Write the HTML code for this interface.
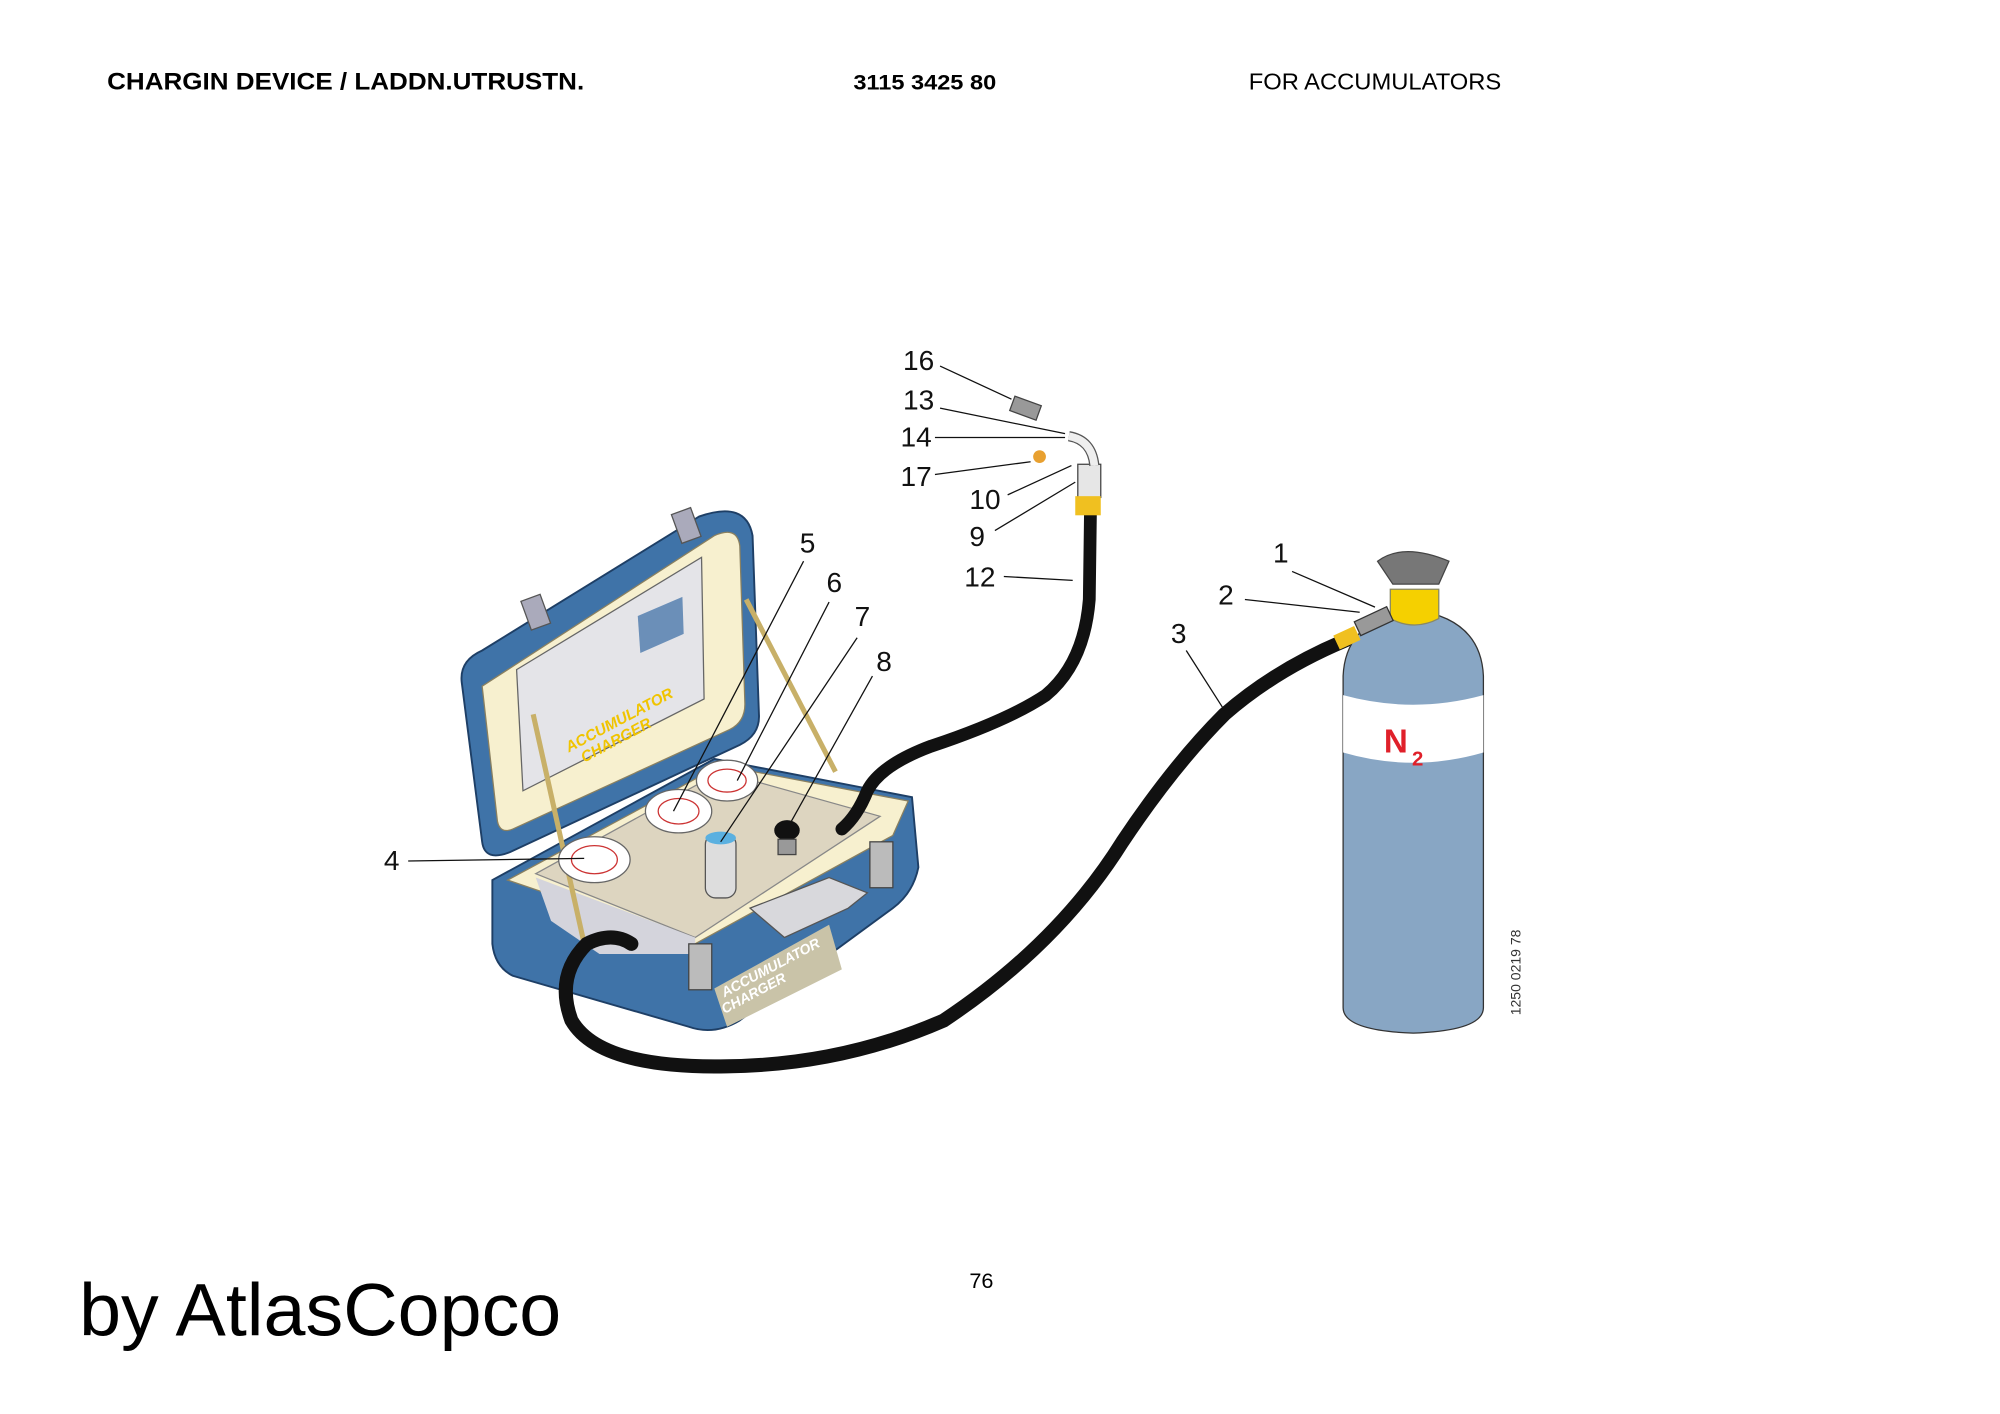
<!DOCTYPE html>
<html><head><meta charset="utf-8"><style>html,body{margin:0;padding:0;background:#fff}svg{display:block}</style></head>
<body>
<svg width="2000" height="1414" viewBox="0 0 1568 1108.6" xmlns="http://www.w3.org/2000/svg" font-family="Liberation Sans, Arial, sans-serif">
<rect width="1568" height="1109" fill="#fff"/>
<text x="84" y="70" font-size="19" font-weight="bold" textLength="374" lengthAdjust="spacingAndGlyphs">CHARGIN DEVICE / LADDN.UTRUSTN.</text>
<text x="669" y="70" font-size="17" font-weight="bold" textLength="112" lengthAdjust="spacingAndGlyphs">3115 3425 80</text>
<text x="979" y="70" font-size="18" textLength="198" lengthAdjust="spacingAndGlyphs">FOR ACCUMULATORS</text>
<text x="760" y="1010" font-size="17">76</text>
<text x="62" y="1047" font-size="58" textLength="378" lengthAdjust="spacingAndGlyphs">by AtlasCopco</text>
<text transform="translate(1192,796) rotate(-90)" font-size="11" fill="#333">1250 0219 78</text>

<!-- Case lid -->
<path d="M362,535 Q360,518 378,510 L548,405 Q585,392 590,420 L595,560 Q596,576 580,584 L400,668 Q380,676 378,660 Z" fill="#3f73a8" stroke="#1e3f66" stroke-width="1.5"/>
<path d="M378,538 L560,420 Q578,412 580,428 L584,552 Q584,566 572,572 L402,650 Q392,654 390,644 Z" fill="#f7f0cf" stroke="#8a8060"/>
<path d="M405,525 L550,437 L552,548 L410,620 Z" fill="#e4e4e8" stroke="#666"/>
<path d="M500,483 L535,468 L536,497 L502,512 Z" fill="#6b8fb8"/>
<text transform="translate(446,590) rotate(-28)" font-size="12" font-weight="bold" font-style="italic" fill="#f0c400">ACCUMULATOR</text>
<text transform="translate(458,598) rotate(-28)" font-size="12" font-weight="bold" font-style="italic" fill="#f0c400">CHARGER</text>
<rect x="412" y="468" width="16" height="24" fill="#aab" stroke="#555" transform="rotate(-20 420 480)"/>
<rect x="530" y="400" width="16" height="24" fill="#aab" stroke="#555" transform="rotate(-20 538 412)"/>
<!-- Case base -->
<path d="M386,690 L560,595 L715,625 L720,680 Q716,700 700,712 L580,800 Q560,812 540,805 L402,765 Q388,758 386,740 Z" fill="#3f73a8" stroke="#1e3f66" stroke-width="1.5"/>
<path d="M398,690 L565,600 L712,628 L700,655 L545,740 Z" fill="#f7f0cf" stroke="#8a8060"/>
<path d="M420,685 L565,605 L690,640 L545,735 Z" fill="#ddd5c0" stroke="#888"/>
<path d="M420,688 L545,735 L545,748 L470,748 L432,722 Z" fill="#d4d4dc"/>
<path d="M560,775 L650,725 L660,760 L570,805 Z" fill="#c9c3a8"/>
<text transform="translate(568,782) rotate(-28)" font-size="11" font-weight="bold" font-style="italic" fill="#fff">ACCUMULATOR</text>
<text transform="translate(568,795) rotate(-28)" font-size="11" font-weight="bold" font-style="italic" fill="#fff">CHARGER</text>
<path d="M588,712 L650,688 L680,700 L665,712 L615,735 Z" fill="#d8d8dc" stroke="#555"/>
<line x1="418" y1="560" x2="458" y2="740" stroke="#c8b068" stroke-width="4"/>
<line x1="585" y1="470" x2="655" y2="605" stroke="#c8b068" stroke-width="4"/>
<!-- gauges -->
<g stroke="#666" fill="#fff"><ellipse cx="466" cy="674" rx="28" ry="18"/><ellipse cx="532" cy="636" rx="26" ry="17"/><ellipse cx="570" cy="612" rx="24" ry="16"/></g>
<g stroke="#c33" fill="none"><ellipse cx="466" cy="674" rx="18" ry="11"/><ellipse cx="532" cy="636" rx="16" ry="10"/><ellipse cx="570" cy="612" rx="15" ry="9"/></g>
<rect x="553" y="654" width="24" height="50" rx="8" fill="#ddd" stroke="#555"/>
<ellipse cx="565" cy="657" rx="12" ry="5" fill="#5ab0e0"/>
<ellipse cx="617" cy="651" rx="10" ry="8" fill="#111"/>
<rect x="610" y="658" width="14" height="12" fill="#999" stroke="#444"/>
<rect x="540" y="740" width="18" height="36" fill="#bbb" stroke="#444"/>
<rect x="682" y="660" width="18" height="36" fill="#bbb" stroke="#444"/>
<!-- hoses -->
<path d="M855,395 L854,470 Q850,520 820,545 Q790,565 730,585 Q690,600 680,620 Q672,640 660,650" fill="none" stroke="#111" stroke-width="10" stroke-linecap="round"/>
<path d="M1055,502 Q1000,525 960,560 Q920,600 880,660 Q830,740 740,800 Q660,835 570,836 Q470,838 448,800 Q435,765 460,740 Q480,730 495,740" fill="none" stroke="#111" stroke-width="11" stroke-linecap="round"/>
<rect x="845" y="364" width="18" height="26" fill="#e6e6e6" stroke="#444"/>
<path d="M838,342 Q856,345 858,365" fill="none" stroke="#555" stroke-width="8"/>
<path d="M838,342 Q856,345 858,365" fill="none" stroke="#eee" stroke-width="6"/>
<rect x="843" y="389" width="20" height="15" fill="#f0c020"/>
<rect x="793" y="314" width="22" height="12" fill="#999" stroke="#444" transform="rotate(20 804 320)"/>
<circle cx="815" cy="358" r="5" fill="#e8a030"/>
<!-- cylinder -->
<path d="M1053,530 Q1055,485 1108,478 Q1161,485 1163,530 L1163,790 Q1163,808 1108,810 Q1053,808 1053,790 Z" fill="#88a6c4" stroke="#333"/>
<path d="M1053,545 Q1108,560 1163,545 L1163,590 Q1108,606 1053,590 Z" fill="#fff"/>
<text x="1085" y="590" font-size="26" font-weight="bold" fill="#e0202a">N</text>
<text x="1107" y="600" font-size="16" font-weight="bold" fill="#e0202a">2</text>
<path d="M1090,462 L1128,462 L1128,485 Q1109,495 1090,485 Z" fill="#f5d000" stroke="#886"/>
<path d="M1080,440 Q1100,425 1136,440 L1128,458 L1092,458 Z" fill="#777" stroke="#444"/>
<rect x="1063" y="481" width="28" height="12" fill="#999" stroke="#333" transform="rotate(-25 1077 487)"/>
<rect x="1047" y="494" width="18" height="12" fill="#f0c020" transform="rotate(-25 1056 500)"/>
<!-- labels -->
<g font-size="22" fill="#111">
<text x="708" y="290">16</text><text x="708" y="321">13</text><text x="706" y="350">14</text><text x="706" y="381">17</text>
<text x="760" y="399">10</text><text x="760" y="428">9</text><text x="756" y="460">12</text>
<text x="627" y="433">5</text><text x="648" y="464">6</text><text x="670" y="491">7</text><text x="687" y="526">8</text>
<text x="301" y="682">4</text><text x="998" y="441">1</text><text x="955" y="474">2</text><text x="918" y="504">3</text>
</g>
<g stroke="#111" stroke-width="1">
<line x1="737" y1="287" x2="793" y2="313"/><line x1="737" y1="320" x2="835" y2="340"/><line x1="733" y1="343" x2="835" y2="343"/>
<line x1="733" y1="372" x2="808" y2="362"/><line x1="790" y1="388" x2="840" y2="365"/><line x1="780" y1="416" x2="843" y2="378"/>
<line x1="787" y1="452" x2="841" y2="455"/><line x1="630" y1="440" x2="528" y2="636"/><line x1="650" y1="472" x2="578" y2="612"/>
<line x1="672" y1="500" x2="565" y2="660"/><line x1="684" y1="530" x2="617" y2="650"/><line x1="320" y1="675" x2="458" y2="673"/>
<line x1="1013" y1="448" x2="1078" y2="476"/><line x1="976" y1="470" x2="1066" y2="480"/><line x1="930" y1="510" x2="960" y2="557"/>
</g>
</svg>
</body></html>
